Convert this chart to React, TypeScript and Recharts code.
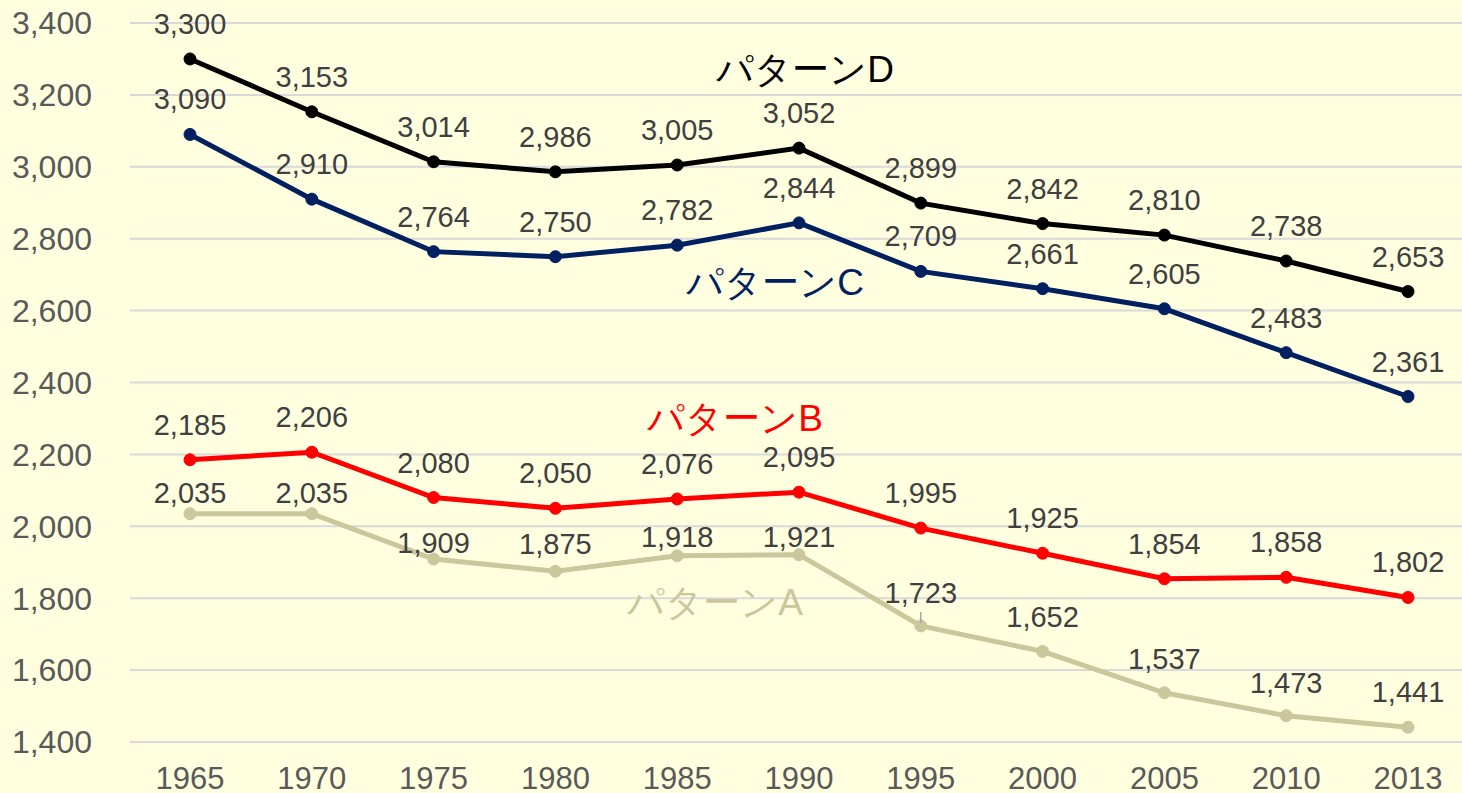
import React from 'react';
import { LineChart, Line, XAxis, YAxis, CartesianGrid, LabelList, ReferenceDot } from 'recharts';

const years = ['1965', '1970', '1975', '1980', '1985', '1990', '1995', '2000', '2005', '2010', '2013'];
const patternA = [2035, 2035, 1909, 1875, 1918, 1921, 1723, 1652, 1537, 1473, 1441];
const patternB = [2185, 2206, 2080, 2050, 2076, 2095, 1995, 1925, 1854, 1858, 1802];
const patternC = [3090, 2910, 2764, 2750, 2782, 2844, 2709, 2661, 2605, 2483, 2361];
const patternD = [3300, 3153, 3014, 2986, 3005, 3052, 2899, 2842, 2810, 2738, 2653];
const yTicks = [1400, 1600, 1800, 2000, 2200, 2400, 2600, 2800, 3000, 3200, 3400];

const chartData = years.map((y, i) => ({
  year: y,
  A: patternA[i],
  B: patternB[i],
  C: patternC[i],
  D: patternD[i],
}));

const seriesStyle = [
  { key: 'A', name: 'パターンA', color: '#C9C79B' },
  { key: 'B', name: 'パターンB', color: '#FF0000' },
  { key: 'C', name: 'パターンC', color: '#002060' },
  { key: 'D', name: 'パターンD', color: '#000000' },
];

// label lift (px above the point) for pattern A, whose labels were nudged by hand
const liftA = [21, 21, 16, 27, 19, 18, 33, 34, 34, 33, 35];
const LIFT = 35;

// where the series names sit (category + value, then a small pixel shift)
const nameSpots: Record<string, { x: string; y: number; dx: number }> = {
  D: { x: '1990', y: 3270, dx: 6 },
  C: { x: '1990', y: 2677, dx: -24 },
  B: { x: '1990', y: 2301, dx: -64 },
  A: { x: '1990', y: 1787, dx: -84 },
};

const fmt = (v: any) => Number(v).toLocaleString('en-US');
const FONT = '"Liberation Sans", Arial, sans-serif';

const makeLabel = (key: string) => (props: any) => {
  const { x, y, value, index } = props;
  const lift = key === 'A' ? liftA[index] : LIFT;
  const leader = key === 'A' && index === 6;
  return (
    <g>
      {leader && <line x1={x} x2={x} y1={y - 14} y2={y - 3} stroke="#A6A6A6" strokeWidth={1.5} />}
      <text x={x} y={y - lift} textAnchor="middle" dominantBaseline="central" fontSize={29} fill="#404040" fontFamily={FONT}>
        {fmt(value)}
      </text>
    </g>
  );
};

export default function App() {
  return (
    <div style={{ position: 'absolute', left: 0, top: 0, width: 1462, height: 793, background: '#FFFFE0', fontFamily: FONT }}>
      <LineChart width={1462} height={793} data={chartData} margin={{ top: 23, right: 0, left: 0, bottom: 0 }}>
        <CartesianGrid horizontal vertical={false} stroke="#D9D9D9" strokeWidth={2} />
        <XAxis
          dataKey="year"
          height={51}
          axisLine={false}
          tickLine={false}
          interval={0}
          padding={{ left: 60, right: 54 }}
          tick={{ fontSize: 31, fill: '#595959', fontFamily: FONT }}
          dy={17}
        />
        <YAxis
          width={130}
          domain={[1400, 3400]}
          ticks={yTicks}
          axisLine={false}
          tickLine={false}
          tickFormatter={fmt}
          tick={{ fontSize: 32, fill: '#595959', fontFamily: FONT }}
          dx={-30}
        />
        {seriesStyle.map((s) => (
          <Line
            key={s.key}
            dataKey={s.key}
            stroke={s.color}
            strokeWidth={5}
            dot={{ r: 6, fill: s.color, stroke: s.color, strokeWidth: 1 }}
            isAnimationActive={false}
          >
            <LabelList dataKey={s.key} content={makeLabel(s.key)} />
          </Line>
        ))}
        {seriesStyle.map((s) => (
          <ReferenceDot
            key={'n' + s.key}
            x={nameSpots[s.key].x}
            y={nameSpots[s.key].y}
            r={0}
            fill="none"
            stroke="none"
            label={(props: any) => {
              const vb = props.viewBox || {};
              const cx = (vb.x || 0) + (vb.width || 0) / 2 + nameSpots[s.key].dx;
              const cy = (vb.y || 0) + (vb.height || 0) / 2;
              return (
                <text x={cx} y={cy} textAnchor="middle" dominantBaseline="central" fontSize={37} fill={s.color} fontFamily={FONT}>
                  {s.name}
                </text>
              );
            }}
          />
        ))}
      </LineChart>
    </div>
  );
}
